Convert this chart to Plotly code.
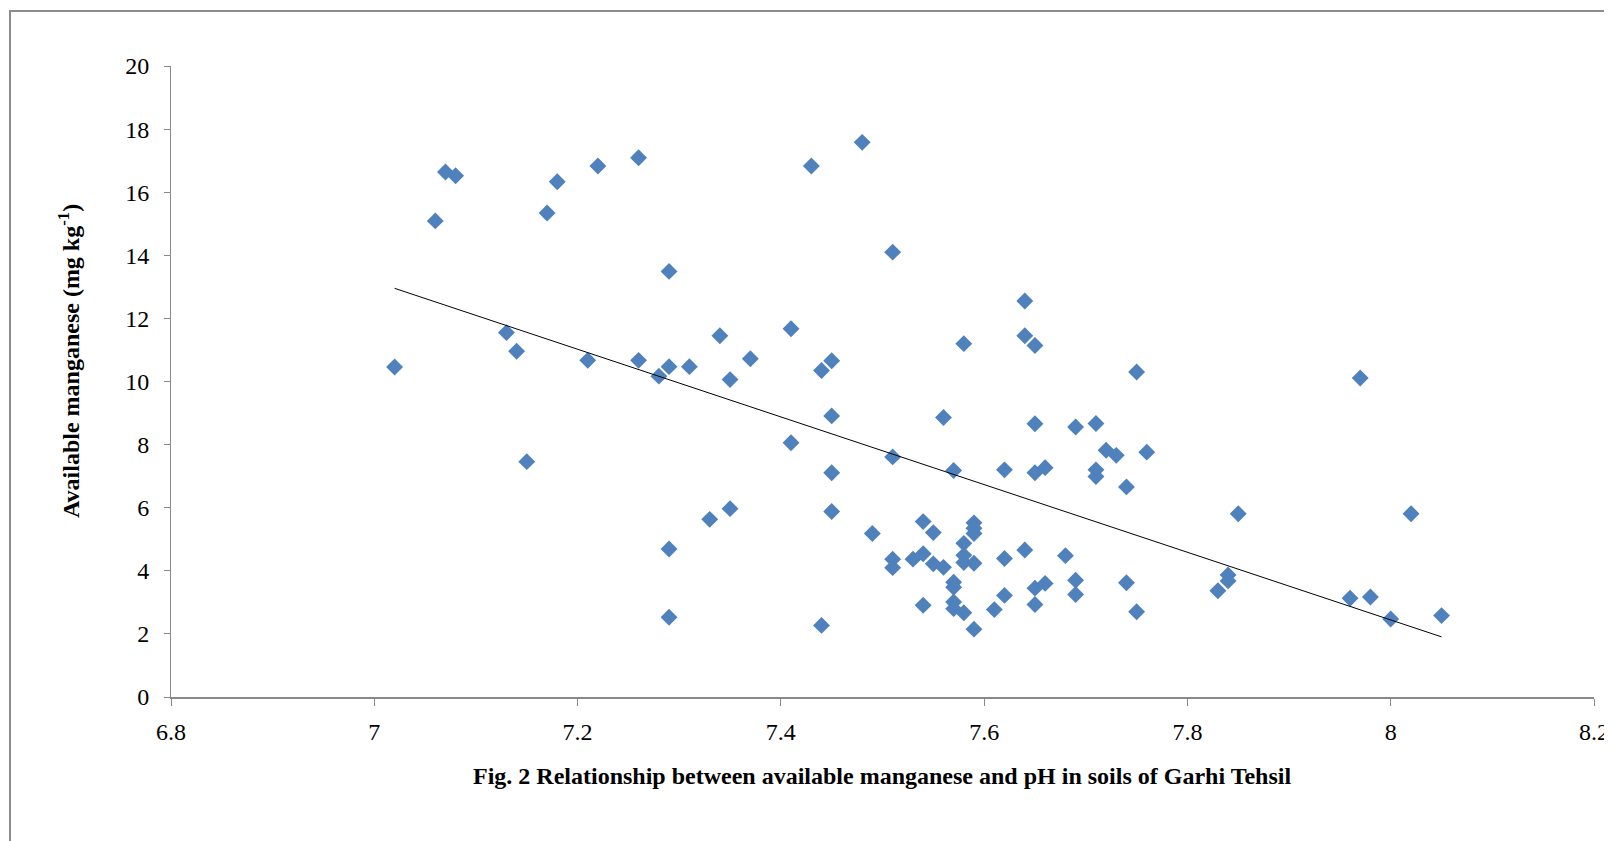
import numpy as np
import plotly.graph_objects as go

# pH values (x) and available manganese (mg/kg) (y)
ph = [7.02, 7.06, 7.07, 7.08, 7.13, 7.14, 7.15, 7.17, 7.18, 7.21,
      7.22, 7.26, 7.26, 7.28, 7.29, 7.29, 7.29, 7.29, 7.31, 7.33,
      7.34, 7.35, 7.35, 7.37, 7.41, 7.41, 7.43, 7.44, 7.44, 7.45,
      7.45, 7.45, 7.45, 7.48, 7.49, 7.51, 7.51, 7.51, 7.51, 7.53,
      7.54, 7.54, 7.54, 7.55, 7.55, 7.56, 7.56, 7.57, 7.57, 7.57,
      7.57, 7.57, 7.58, 7.58, 7.58, 7.58, 7.58, 7.59, 7.59, 7.59,
      7.59, 7.59, 7.61, 7.62, 7.62, 7.62, 7.64, 7.64, 7.64, 7.65,
      7.65, 7.65, 7.65, 7.65, 7.66, 7.66, 7.68, 7.69, 7.69, 7.69,
      7.71, 7.71, 7.71, 7.72, 7.73, 7.74, 7.74, 7.75, 7.75, 7.76,
      7.83, 7.84, 7.84, 7.85, 7.96, 7.97, 7.98, 8.00, 8.02, 8.05]
manganese = [10.46, 15.09, 16.64, 16.52, 11.55, 10.96, 7.46, 15.34, 16.33, 10.67,
             16.83, 17.09, 10.67, 10.17, 10.47, 13.49, 4.69, 2.53, 10.47, 5.63,
             11.45, 10.06, 5.97, 10.72, 11.67, 8.06, 16.83, 10.35, 2.27, 10.66,
             8.91, 7.11, 5.88, 17.58, 5.18, 14.10, 7.61, 4.37, 4.10, 4.37,
             5.56, 4.54, 2.91, 5.21, 4.22, 8.86, 4.11, 7.18, 3.64, 3.48,
             3.01, 2.80, 11.20, 4.87, 4.49, 4.26, 2.67, 5.52, 5.35, 5.18,
             4.24, 2.15, 2.77, 7.20, 4.39, 3.22, 12.55, 11.45, 4.66, 11.14,
             8.66, 7.11, 3.45, 2.93, 7.27, 3.60, 4.48, 8.56, 3.70, 3.25,
             8.67, 7.20, 6.99, 7.82, 7.66, 6.66, 3.62, 10.30, 2.70, 7.76,
             3.37, 3.87, 3.68, 5.81, 3.13, 10.11, 3.17, 2.47, 5.81, 2.58]

x_ticks = [6.8, 7.0, 7.2, 7.4, 7.6, 7.8, 8.0, 8.2]
x_tick_labels = ["6.8", "7", "7.2", "7.4", "7.6", "7.8", "8", "8.2"]
y_ticks = [0, 2, 4, 6, 8, 10, 12, 14, 16, 18, 20]

# Linear trend line (least squares) computed from the data
slope, intercept = np.polyfit(ph, manganese, 1)
trend_x = [min(ph), max(ph)]
trend_y = [slope * v + intercept for v in trend_x]

# page offset (body margin) and figure size
OFF = 8
W, H = 1604, 833
# plot area in page pixels
PL, PR, PT, PB = 171, 1594, 66, 697
ML, MT = PL - OFF, PT - OFF
MR = W - (PR - OFF)
MB = H - (PB - OFF)

fig = go.Figure()
fig.add_trace(go.Scatter(
    x=ph, y=manganese, mode="markers",
    marker=dict(symbol="diamond", size=13, color="#4F81BD", line=dict(width=0)),
    showlegend=False, hoverinfo="x+y"))
fig.add_trace(go.Scatter(
    x=trend_x, y=trend_y, mode="lines",
    line=dict(color="#000000", width=1), showlegend=False, hoverinfo="skip"))

serif = "Liberation Serif, Times New Roman, serif"
axis_font = dict(family=serif, size=24, color="#000000")
fig.update_xaxes(range=[6.8, 8.2], tickmode="array", tickvals=x_ticks, ticktext=x_tick_labels,
                 showgrid=False, zeroline=False, showline=True, linecolor="#898989", linewidth=2,
                 ticks="outside", ticklen=7, tickcolor="#898989", tickwidth=1,
                 tickfont=axis_font, ticklabelstandoff=5)
fig.update_yaxes(range=[0, 20], tickmode="array", tickvals=y_ticks,
                 showgrid=False, zeroline=False, showline=True, linecolor="#898989", linewidth=1,
                 ticks="outside", ticklen=6, tickcolor="#898989", tickwidth=1,
                 tickfont=axis_font, ticklabelstandoff=10)

pw, phh = PR - PL, PB - PT
def px2paper_x(px):
    return (px - PL) / pw
def px2paper_y(py):
    return (PB - py) / phh

fig.update_layout(
    width=W, height=H,
    margin=dict(l=ML, r=MR, t=MT, b=MB, autoexpand=False),
    paper_bgcolor="white", plot_bgcolor="white",
    annotations=[
        dict(text="Fig. 2 Relationship between available manganese and pH in soils of Garhi Tehsil",
             xref="paper", yref="paper", x=px2paper_x(882), y=px2paper_y(776),
             xanchor="center", yanchor="middle", showarrow=False,
             font=dict(family=serif, size=24, color="#000000", weight="bold")),
        dict(text="Available manganese (mg kg<sup>-1</sup>)",
             xref="paper", yref="paper", x=px2paper_x(69), y=px2paper_y(361),
             xanchor="center", yanchor="middle", showarrow=False, textangle=-90,
             font=dict(family=serif, size=24, color="#000000", weight="bold")),
    ],
    shapes=[
        dict(type="rect", xref="paper", yref="paper",
             x0=px2paper_x(10), x1=px2paper_x(1640), y0=px2paper_y(11), y1=px2paper_y(870),
             line=dict(color="#8c8c8c", width=2), fillcolor="rgba(0,0,0,0)", layer="below"),
    ],
)

fig.write_html("out.html")
